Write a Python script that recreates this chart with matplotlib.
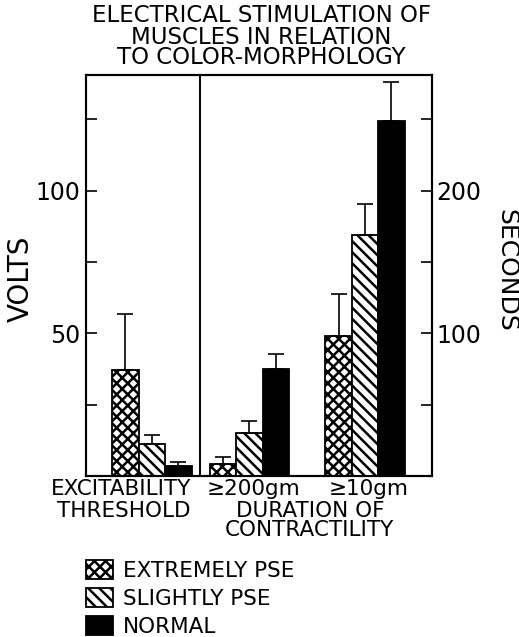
import matplotlib
matplotlib.use("Agg")
import matplotlib.pyplot as plt

plt.rcParams['font.family'] = ['DejaVu Sans']
plt.rcParams['hatch.linewidth'] = 1.8
plt.rcParams['hatch.color'] = 'black'

groups = ['EXCITABILITY\nTHRESHOLD', '\u2265200gm', '\u226510gm']
series = ['EXTREMELY PSE', 'SLIGHTLY PSE', 'NORMAL']

# excitability threshold, volts (left axis)
volts_mean = [37.2, 11.2, 3.6]
volts_err = [19.5, 3.2, 1.4]

# duration of contractility, seconds (right axis)
sec_200gm_mean = [8.4, 30.5, 75.1]
sec_200gm_err = [5.1, 7.9, 10.7]
sec_10gm_mean = [98.1, 169.2, 248.7]
sec_10gm_err = [29.5, 21.4, 27.3]

hatches = ['xxx', '\\\\\\', '']
faces = ['white', 'white', 'black']

fig = plt.figure(figsize=(5.19, 6.37), dpi=100)
ax = fig.add_axes([0.1657, 0.2527, 0.6667, 0.6295])
ax2 = ax.twinx()

centers = [2.44, 6.05, 10.33]
width = 0.98
vmax = 140.5

def draw_group(axis, c, means, errs):
    bars = []
    for i, (m, e) in enumerate(zip(means, errs)):
        x = c + (i - 1) * width
        b = axis.bar(x, m, width=width, color=faces[i], edgecolor='black',
                     hatch=hatches[i], linewidth=1.3, label=series[i])
        axis.errorbar(x, m, yerr=[[0], [e]], color='black', capsize=6,
                      elinewidth=1.2, capthick=1.2, fmt='none')
        bars.append(b)
    return bars

handles = draw_group(ax, centers[0], volts_mean, volts_err)
draw_group(ax2, centers[1], sec_200gm_mean, sec_200gm_err)
draw_group(ax2, centers[2], sec_10gm_mean, sec_10gm_err)

ax.set_xlim(0, 12.81)
ax.set_ylim(0, vmax)
ax2.set_ylim(0, vmax * 2)
ax.axvline(4.22, color='black', lw=1.4)

ax.set_xticks([])
ax.set_yticks([25, 50, 75, 100, 125])
ax.set_yticklabels(['', '50', '', '100', ''])
ax2.set_yticks([50, 100, 150, 200, 250])
ax2.set_yticklabels(['', '100', '', '200', ''])
ax.tick_params(axis='y', direction='in', length=8, width=1.2, pad=4, labelsize=17)
ax2.tick_params(axis='y', direction='in', length=8, width=1.2, pad=3, labelsize=17)
for a in (ax, ax2):
    for s in a.spines.values():
        s.set_linewidth(1.5)

W, H = 519.0, 637.0
def ftext(x, y, s, **kw):
    fig.text(x / W, 1 - y / H, s, ha='center', va='center', **kw)

ftext(261, 15, 'ELECTRICAL STIMULATION OF', fontsize=16.5)
ftext(261, 37, 'MUSCLES IN RELATION', fontsize=16.5)
ftext(261, 58, 'TO COLOR-MORPHOLOGY', fontsize=16.5)

ftext(21, 279, 'VOLTS', fontsize=20, rotation=90)
ftext(506, 270, 'SECONDS', fontsize=18, rotation=270)

ftext(121, 489, 'EXCITABILITY', fontsize=15.5)
ftext(124, 511, 'THRESHOLD', fontsize=15.5)
ftext(254, 489, groups[1], fontsize=15.5)
ftext(369, 489, groups[2], fontsize=15.5)
ftext(310, 511, 'DURATION OF', fontsize=15.5)
ftext(309, 530, 'CONTRACTILITY', fontsize=15.5)

fig.legend(handles=handles, labels=series, loc='upper left',
           bbox_to_anchor=(86 / W, 1 - 560 / H), frameon=False, fontsize=15.5,
           borderpad=0, borderaxespad=0, handlelength=1.25, handleheight=0.95,
           handletextpad=0.45, labelspacing=0.35)

fig.savefig('out.png', dpi=100)
